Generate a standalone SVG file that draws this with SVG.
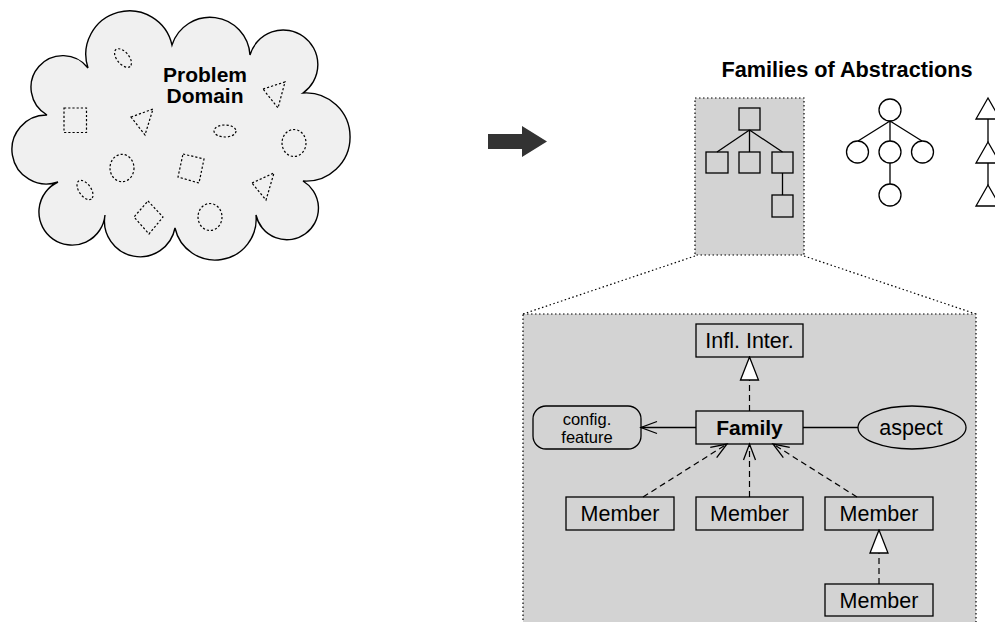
<svg xmlns="http://www.w3.org/2000/svg" width="995" height="622" viewBox="0 0 995 622">
<defs>
<style>
.t{font-family:"Liberation Sans",Arial,Helvetica,sans-serif;fill:#000;text-anchor:middle}
.b{font-weight:bold}
.ln{stroke:#000;stroke-width:1.3;fill:none}
.sh{stroke:#000;stroke-width:1.2;fill:none;stroke-dasharray:2.2,2}
.box{fill:none;stroke:#000;stroke-width:1.3}
.dash{stroke:#000;stroke-width:1.2;fill:none;stroke-dasharray:6,4}
.dot{stroke:#000;stroke-width:1.2;fill:none;stroke-dasharray:1.5,2.5}
.panel{fill:#d3d3d3;stroke:#000;stroke-width:1.2;stroke-dasharray:1.5,2.5}
</style>
<marker id="open" markerUnits="userSpaceOnUse" markerWidth="20" markerHeight="16" viewBox="-18 -8 20 16" refX="0" refY="0" orient="auto">
<path d="M-16,-6 L0,0 L-16,6" fill="none" stroke="#000" stroke-width="1.3"/>
</marker>
<marker id="tri" markerUnits="userSpaceOnUse" markerWidth="26" markerHeight="22" viewBox="-25 -11 26 22" refX="0" refY="0" orient="auto">
<path d="M-23,-9 L0,0 L-23,9 Z" fill="#fff" stroke="#000" stroke-width="1.3"/>
</marker>
</defs>

<g id="problem-domain">
<path d="M47,115 A31.8,31.8 0 1 1 88,68 A43.6,43.6 0 1 1 172,45 A40,40 0 0 1 250,55 A34.6,34.6 0 1 1 303,93 A44.1,44.1 0 1 1 303,181 A31.6,31.6 0 1 1 256,215 A41.1,41.1 0 0 1 175,228 A35.6,35.6 0 0 1 105,215 A33.1,33.1 0 1 1 58,182 A34.5,34.5 0 1 1 47,115 Z" fill="#f0f0f0" stroke="#000" stroke-width="1.4"/>
<ellipse class="sh" cx="123" cy="58" rx="11" ry="6" transform="rotate(50 123 58)"/>
<rect class="sh" x="64" y="108" width="22.5" height="24.5"/>
<polygon class="sh" points="131,117 153,109 145,135"/>
<polygon class="sh" points="263,89 285,82 278,108"/>
<ellipse class="sh" cx="225" cy="131" rx="11" ry="6"/>
<ellipse class="sh" cx="294" cy="143" rx="12" ry="13.5"/>
<ellipse class="sh" cx="122" cy="168" rx="12" ry="13.7"/>
<polygon class="sh" points="183,154 204,159 199,183 178,177"/>
<polygon class="sh" points="252,183 274,173 266,200"/>
<ellipse class="sh" cx="85" cy="190" rx="11" ry="6" transform="rotate(55 85 190)"/>
<polygon class="sh" points="148,201 163,217 149,234 134,217"/>
<ellipse class="sh" cx="210" cy="217" rx="12" ry="13.5"/>
<text class="t b" x="205" y="82" font-size="21">Problem</text>
<text class="t b" x="205" y="103" font-size="21">Domain</text>
</g>

<g id="big-arrow">
<polygon points="488,134 522,134 522,126 547,141.5 522,157 522,149 488,149" fill="#333"/>
</g>

<g id="families">
<text class="t b" x="847" y="77" font-size="21.7">Families of Abstractions</text>
<rect class="panel" x="695" y="98" width="109" height="157"/>
<g class="ln">
<rect x="739" y="108" width="21" height="22"/>
<rect x="706" y="152" width="22" height="21"/>
<rect x="739" y="152" width="21" height="21"/>
<rect x="772" y="152" width="21" height="21"/>
<rect x="772" y="195" width="21" height="22"/>
<path d="M749.5,130 L717,152 M749.5,130 L749.5,152 M749.5,130 L782.5,152 M782.5,173 L782.5,195"/>
<circle cx="890" cy="110" r="11"/>
<circle cx="857.5" cy="152" r="11"/>
<circle cx="890" cy="152" r="11"/>
<circle cx="922.5" cy="152" r="11"/>
<circle cx="890" cy="195" r="11"/>
<path d="M890,121 L858,141 M890,121 L890,141 M890,121 L922,141 M890,163 L890,184"/>
<polygon points="988,98 1000,119 976,119"/>
<polygon points="988,142 1000,163 976,163"/>
<polygon points="988,185 1000,206 976,206"/>
<path d="M988,119 L988,142 M988,163 L988,185"/>
</g>
</g>

<g id="zoom-lines">
<path class="dot" d="M695,256 L523,314 M804,256 L976,314"/>
</g>

<g id="detail-panel">
<rect class="panel" x="523" y="314" width="453" height="320"/>
</g>

<g id="infl-inter">
<rect class="box" x="696" y="324" width="107" height="33"/>
<text class="t" x="749.5" y="348" font-size="21.5">Infl. Inter.</text>
</g>
<g id="family">
<rect class="box" x="696" y="411" width="107" height="33"/>
<text class="t b" x="749.5" y="435" font-size="21">Family</text>
</g>
<g id="config-feature">
<rect class="box" x="533" y="406" width="108" height="43" rx="13" ry="13"/>
<text class="t" x="587" y="424.5" font-size="16.5">config.</text>
<text class="t" x="587" y="442.5" font-size="16.5">feature</text>
</g>
<g id="aspect">
<ellipse class="box" cx="912" cy="427.5" rx="54" ry="21.5"/>
<text class="t" x="911" y="435" font-size="21.5">aspect</text>
</g>
<g id="member1">
<rect class="box" x="566" y="497" width="108" height="33"/>
<text class="t" x="620" y="521" font-size="21.5">Member</text>
</g>
<g id="member2">
<rect class="box" x="696" y="497" width="107" height="33"/>
<text class="t" x="749.5" y="521" font-size="21.5">Member</text>
</g>
<g id="member3">
<rect class="box" x="825" y="497" width="108" height="33"/>
<text class="t" x="879" y="521" font-size="21.5">Member</text>
</g>
<g id="member4">
<rect class="box" x="825" y="584" width="108" height="32"/>
<text class="t" x="879" y="607.5" font-size="21.5">Member</text>
</g>

<g id="connectors">
<path class="dash" d="M749.5,411 L749.5,357" marker-end="url(#tri)"/>
<path class="dash" d="M879,584 L879,530" marker-end="url(#tri)"/>
<path class="ln" d="M696,427.5 L641,427.5" marker-end="url(#open)"/>
<path class="ln" d="M803,427.5 L858,427.5"/>
<path class="dash" d="M643,497 L727,444" marker-end="url(#open)"/>
<path class="dash" d="M749.5,497 L749.5,444" marker-end="url(#open)"/>
<path class="dash" d="M857,497 L773,444" marker-end="url(#open)"/>
</g>
</svg>
